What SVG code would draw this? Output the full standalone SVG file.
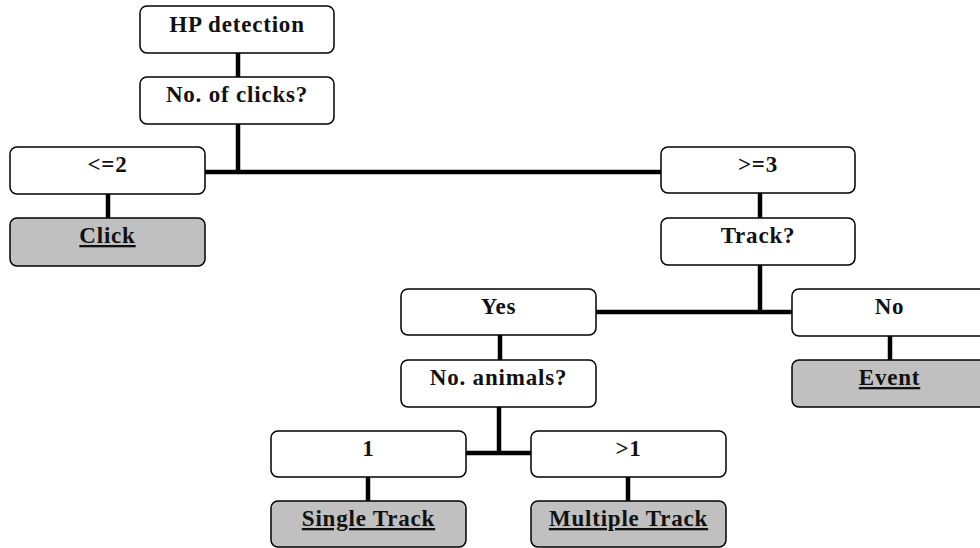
<svg xmlns="http://www.w3.org/2000/svg" width="980" height="548" viewBox="0 0 980 548">
<style>
.b{fill:#fff;stroke:#000;stroke-width:1.5}
.g{fill:#c0c0c0;stroke:#000;stroke-width:1.5}
.t{font-family:"Liberation Serif","Times New Roman",serif;font-weight:bold;font-size:23px;letter-spacing:0.8px;text-anchor:middle;fill:#111}
.u{text-decoration:underline}
.c{stroke:#000;stroke-width:4.5;fill:none}
</style>
<rect width="980" height="548" fill="#fff"/>
<g id="connectors">
<line class="c" x1="238" y1="53" x2="238" y2="77"/>
<line class="c" x1="238" y1="124" x2="238" y2="172"/>
<line class="c" x1="205" y1="172" x2="661" y2="172"/>
<line class="c" x1="108" y1="194" x2="108" y2="218"/>
<line class="c" x1="760" y1="193" x2="760" y2="218"/>
<line class="c" x1="760" y1="265" x2="760" y2="312"/>
<line class="c" x1="596" y1="312" x2="792" y2="312"/>
<line class="c" x1="500" y1="335" x2="500" y2="360"/>
<line class="c" x1="890" y1="336" x2="890" y2="360"/>
<line class="c" x1="499" y1="407" x2="499" y2="453"/>
<line class="c" x1="466" y1="453" x2="531" y2="453"/>
<line class="c" x1="368" y1="477" x2="368" y2="501"/>
<line class="c" x1="628" y1="477" x2="628" y2="501"/>
</g>
<g id="hp"><rect class="b" x="140" y="6" width="194" height="47" rx="7"/><text class="t" x="237" y="32">HP detection</text></g>
<g id="clicks"><rect class="b" x="140" y="77" width="194" height="47" rx="7"/><text class="t" x="237" y="102">No. of clicks?</text></g>
<g id="le2"><rect class="b" x="10" y="147" width="195" height="47" rx="7"/><text class="t" x="107.5" y="172">&lt;=2</text></g>
<g id="click"><rect class="g" x="10" y="218" width="195" height="48" rx="7"/><text class="t u" x="107.5" y="243">Click</text></g>
<g id="ge3"><rect class="b" x="661" y="147" width="194" height="46" rx="7"/><text class="t" x="758" y="172">&gt;=3</text></g>
<g id="track"><rect class="b" x="661" y="218" width="194" height="47" rx="7"/><text class="t" x="758" y="243">Track?</text></g>
<g id="yes"><rect class="b" x="401" y="289" width="195" height="46" rx="7"/><text class="t" x="498.5" y="314">Yes</text></g>
<g id="no"><rect class="b" x="792" y="289" width="195" height="47" rx="7"/><text class="t" x="889.5" y="314">No</text></g>
<g id="animals"><rect class="b" x="401" y="360" width="195" height="47" rx="7"/><text class="t" x="498.5" y="385">No. animals?</text></g>
<g id="event"><rect class="g" x="792" y="360" width="195" height="47" rx="7"/><text class="t u" x="889.5" y="385">Event</text></g>
<g id="one"><rect class="b" x="271" y="431" width="195" height="46" rx="7"/><text class="t" x="368.5" y="456">1</text></g>
<g id="gt1"><rect class="b" x="531" y="431" width="195" height="46" rx="7"/><text class="t" x="628.5" y="456">&gt;1</text></g>
<g id="single"><rect class="g" x="271" y="501" width="195" height="46" rx="7"/><text class="t u" x="368.5" y="526">Single Track</text></g>
<g id="multiple"><rect class="g" x="531" y="501" width="195" height="46" rx="7"/><text class="t u" x="628.5" y="526">Multiple Track</text></g>
</svg>
